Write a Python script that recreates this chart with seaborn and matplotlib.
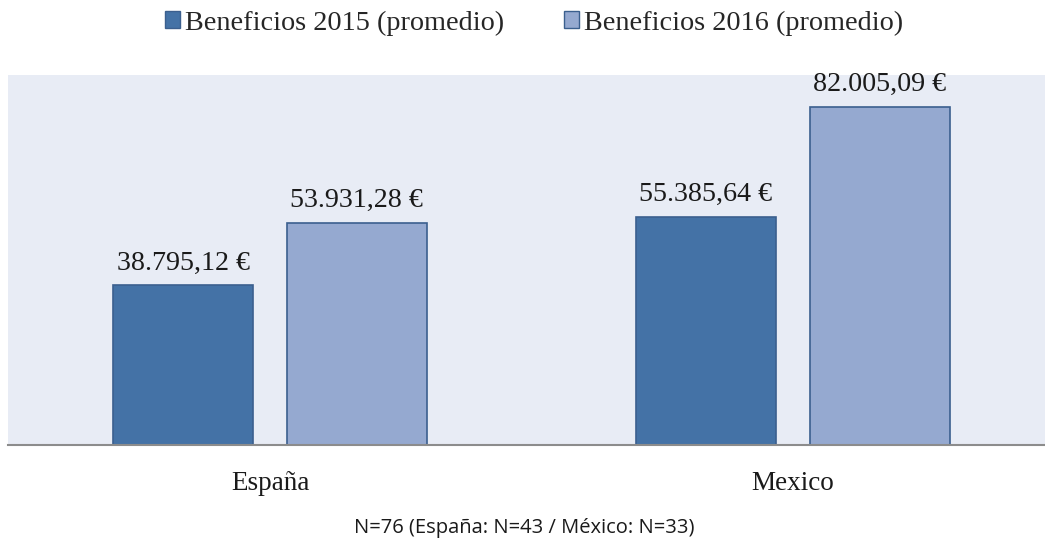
import matplotlib
matplotlib.use("Agg")
import matplotlib.pyplot as plt
import seaborn as sns
import pandas as pd
from matplotlib.patches import Patch

categories = ["España", "Mexico"]
series = ["Beneficios 2015 (promedio)", "Beneficios 2016 (promedio)"]
values_2015 = [38795.12, 55385.64]
values_2016 = [53931.28, 82005.09]
labels_2015 = ["38.795,12 €", "55.385,64 €"]
labels_2016 = ["53.931,28 €", "82.005,09 €"]
note = "N=76 (España: N=43 / México: N=33)"

df = pd.DataFrame({
    "cat": categories * 2,
    "serie": [series[0]] * 2 + [series[1]] * 2,
    "val": values_2015 + values_2016,
})

sns.set_theme(style="white")
serif = ["Liberation Serif", "DejaVu Serif"]
colors = ["#4472A6", "#95A9D0"]
edge = "#3B5F8E"

fig = plt.figure(figsize=(10.45, 5.52), dpi=100)
ax = fig.add_axes([8 / 1045, 107 / 552, 1037 / 1045, 370 / 552])
ax.set_facecolor("#E8ECF5")

sns.barplot(data=df, x="cat", y="val", hue="serie", palette=colors,
            saturation=1, width=0.665, gap=0.195, edgecolor=edge,
            linewidth=1.2, ax=ax, legend=False)

ax.set_ylim(0, 89800)
ax.set_xlim(-0.501, 1.482)
ax.set_xlabel("")
ax.set_ylabel("")
ax.set_yticks([])
for s in ["top", "left", "right"]:
    ax.spines[s].set_visible(False)
ax.spines["bottom"].set_color("#8C8C8C")
ax.spines["bottom"].set_linewidth(1.5)
ax.tick_params(axis="x", length=0, pad=19)
for t in ax.get_xticklabels():
    t.set_fontfamily(serif)
    t.set_fontsize(19.5)
    t.set_color("#1a1a1a")

all_labels = [labels_2015, labels_2016]
for cont, labs in zip(ax.containers, all_labels):
    ax.bar_label(cont, labels=labs, padding=7, fontsize=20.2,
                 family=serif, color="#1a1a1a")

handles = [Patch(facecolor=c, edgecolor=edge, linewidth=1.0) for c in colors]
fig.legend(handles, series, loc="center", bbox_to_anchor=(0.511, 0.958),
           ncol=2, frameon=False, prop={"family": serif, "size": 20.3},
           handlelength=0.53, handleheight=0.53, handletextpad=0.2,
           columnspacing=2.1)

fig.text(0.502, 1 - 528 / 552, note, ha="center", va="center",
         fontsize=14.5, family=["Open Sans", "DejaVu Sans"], color="#1a1a1a")

fig.savefig("out.png", dpi=100, facecolor="white")
